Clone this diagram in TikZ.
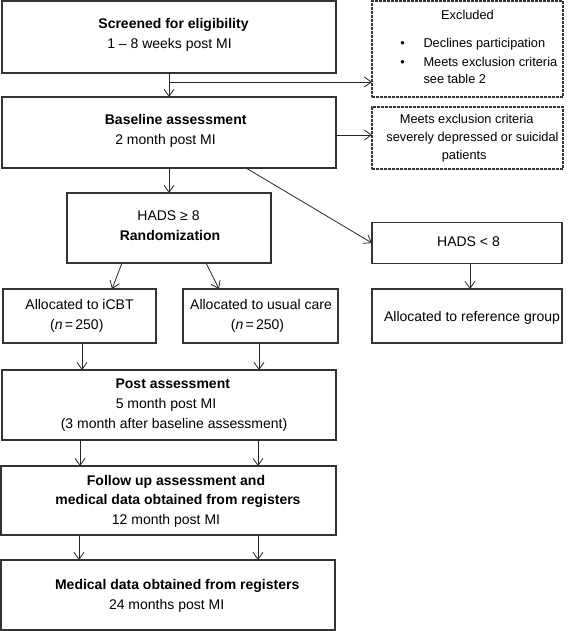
\documentclass[tikz,border=0pt]{standalone}
\usepackage{fontspec}
\setmainfont{Liberation Sans}
\usetikzlibrary{arrows.meta}
\begin{document}
\begin{tikzpicture}[x=1pt,y=-1pt,
  box/.style={draw=black!80,line width=1.1pt,inner sep=0pt,outer sep=0pt},
  dbox/.style={box,dash pattern=on 2.7pt off 1.3pt},
  arr/.style={draw=black!85,line width=0.8pt,-{Straight Barb[length=7pt,width=10pt]}},
  t/.style={anchor=base,inner sep=0pt,font=\fontsize{14}{16}\selectfont},
  tb/.style={anchor=base,inner sep=0pt,font=\fontsize{14}{16}\selectfont\bfseries},
  ts/.style={anchor=base,inner sep=0pt,font=\fontsize{12.8}{15}\selectfont},
  tsl/.style={ts,anchor=base west},
]
\useasboundingbox (0,0) rectangle (568,631);
% boxes
\node[box,minimum width=334pt,minimum height=72pt] (scr) at (169,37) {};
\node[dbox,minimum width=191pt,minimum height=96pt] (exc) at (467.5,49) {};
\node[box,minimum width=334pt,minimum height=71pt] (base) at (169,132.5) {};
\node[dbox,minimum width=191pt,minimum height=62pt] (mec) at (467.5,138) {};
\node[box,minimum width=204pt,minimum height=70pt] (hads8) at (169,228) {};
\node[box,minimum width=190pt,minimum height=41pt] (hadsl) at (467,243) {};
\node[box,minimum width=190pt,minimum height=54pt] (ref) at (467,316) {};
\node[box,minimum width=153pt,minimum height=54pt] (icbt) at (79.5,316) {};
\node[box,minimum width=155pt,minimum height=54pt] (uc) at (260.5,316) {};
\node[box,minimum width=334pt,minimum height=70pt] (post) at (169,405) {};
\node[box,minimum width=335pt,minimum height=69pt] (fu) at (168.5,500.5) {};
\node[box,minimum width=334pt,minimum height=70pt] (med) at (168,595) {};
% texts
\node[tb] (scr1) at (173.5,29) {Screened for eligibility};
\node[t] (scr2) at (169.5,49) {1 – 8 weeks post MI};
\node[ts] (exc1) at (467.5,19.5) {Excluded};
\node[ts] (bul1) at (402.7,47.2) {•};
\node[ts] (bul2) at (402.7,66.2) {•};
\node[tsl] (exc2) at (423.3,47.2) {Declines participation};
\node[tsl] (exc3) at (423.3,66.2) {Meets exclusion criteria};
\node[tsl] (exc4) at (423.3,83.8) {see table 2};
\node[tb] (base1) at (175.7,125) {Baseline assessment};
\node[t] (base2) at (165.5,145) {2 month post MI};
\node[ts] (mec1) at (466.7,123.8) {Meets exclusion criteria};
\node[ts] (mec2) at (472.5,141.8) {severely depressed or suicidal};
\node[ts] (mec3) at (464.2,159.5) {patients};
\node[t] (h81) at (168.5,220) {HADS ≥ 8};
\node[tb] (h82) at (170,240) {Randomization};
\node[t] (hl1) at (468.5,246.7) {HADS < 8};
\node[t] (icbt1) at (79.5,309) {Allocated to iCBT};
\node[t] (icbt2) at (76.8,329) {(\textit{n}\,=\,250)};
\node[t] (uc1) at (261,309) {Allocated to usual care};
\node[t] (uc2) at (257.5,329) {(\textit{n}\,=\,250)};
\node[t] (ref1) at (472,321) {Allocated to reference group};
\node[tb] (post1) at (172.8,388) {Post assessment};
\node[t] (post2) at (166,408) {5 month post MI};
\node[t] (post3) at (174,428) {(3 month after baseline assessment)};
\node[tb] (fu1) at (176,485) {Follow up assessment and};
\node[tb] (fu2) at (178,504) {medical data obtained from registers};
\node[t] (fu3) at (166,524) {12 month post MI};
\node[tb] (med1) at (177.2,589) {Medical data obtained from registers};
\node[t] (med2) at (166.6,609) {24 months post MI};
% connectors
\coordinate (j1) at (169,82);
\draw[arr] (scr.south) -- (scr.south |- base.north);
\draw[arr] (j1) -- (j1 -| exc.west);
\draw[arr] (base.east |- 0,135) -- (mec.west |- 0,135);
\draw[arr] (hads8.north |- base.south) -- (hads8.north);
\draw[arr] ([xshift=77pt]base.south) -- (hadsl.west);
\draw[arr] ([xshift=-47pt]hads8.south) -- ([xshift=32.5pt]icbt.north);
\draw[arr] ([xshift=37pt]hads8.south) -- ([xshift=-41.5pt]uc.north);
\coordinate (c0) at (470,0);
\draw[arr] (c0 |- hadsl.south) -- (c0 |- ref.north);
\coordinate (c1) at (82,0);
\coordinate (c2) at (259,0);
\coordinate (c3) at (80,0);
\coordinate (c4) at (258,0);
\coordinate (c5) at (79,0);
\draw[arr] (c1 |- icbt.south) -- (c1 |- post.north);
\draw[arr] (c2 |- uc.south) -- (c2 |- post.north);
\draw[arr] (c3 |- post.south) -- (c3 |- fu.north);
\draw[arr] (c4 |- post.south) -- (c4 |- fu.north);
\draw[arr] (c5 |- fu.south) -- (c5 |- med.north);
\draw[arr] (c4 |- fu.south) -- (c4 |- med.north);
\end{tikzpicture}
\end{document}
